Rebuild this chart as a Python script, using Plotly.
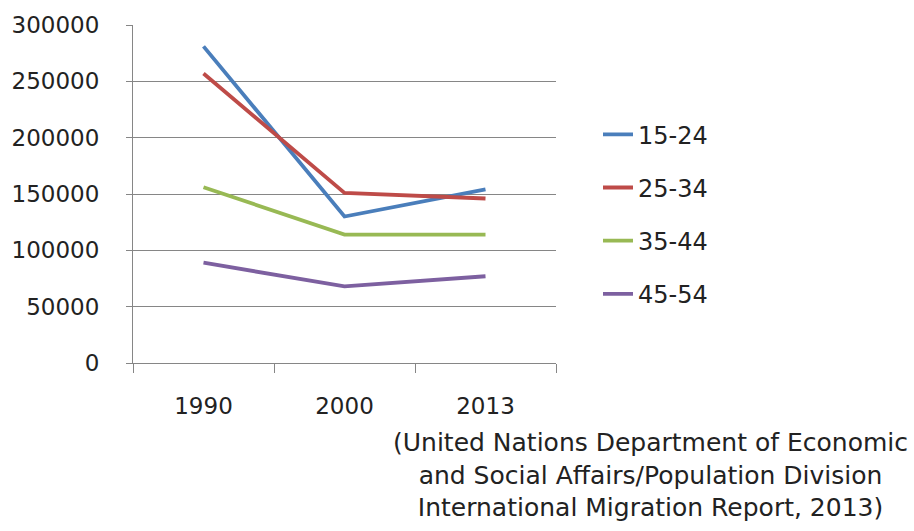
import plotly.graph_objects as go

years = ["1990", "2000", "2013"]
age_15_24 = [281000, 130000, 154000]
age_25_34 = [257000, 151000, 146000]
age_35_44 = [156000, 114000, 114000]
age_45_54 = [89000, 68000, 77000]

series = [
    ("15-24", age_15_24, "#4A7EBB"),
    ("25-34", age_25_34, "#BE4B48"),
    ("35-44", age_35_44, "#98B954"),
    ("45-54", age_45_54, "#7D60A0"),
]

W, H = 914, 531
L, R, T, B = 133, 358, 20, 168
FONT = "DejaVu Sans"
pw = W - L - R
ph = H - T - B

fig = go.Figure()
for i, (name, vals, col) in enumerate(series):
    fig.add_trace(go.Scatter(
        x=years, y=vals, name=name, mode="lines",
        line=dict(color=col, width=3.8),
        legendgroup=f"g{i}",
    ))

fig.update_layout(
    width=W, height=H,
    margin=dict(l=L, r=R, t=T, b=B),
    paper_bgcolor="white", plot_bgcolor="white",
    font=dict(family=FONT, size=23, color="#222222"),
    showlegend=True,
    legend=dict(
        x=(598 - L) / pw, xref="paper", xanchor="left",
        y=(H - B - 212) / ph, yanchor="middle",
        tracegroupgap=19,
        font=dict(size=24),
        bgcolor="rgba(0,0,0,0)",
    ),
)

fig.update_xaxes(
    type="category", range=[-0.5, 2.5],
    showline=True, linecolor="#868686", linewidth=1,
    ticks="outside", tickson="boundaries", ticklen=9, tickcolor="#868686",
    showgrid=False, ticklabelstandoff=22,
)
fig.update_yaxes(
    range=[0, 300000], dtick=50000, tickformat="d",
    showline=True, linecolor="#868686", linewidth=1,
    ticks="outside", ticklen=6, tickcolor="#868686",
    showgrid=True, gridcolor="#868686", gridwidth=1,
    zeroline=False, ticklabelstandoff=22,
)

source_lines = [
    "(United Nations Department of Economic",
    "and Social Affairs/Population Division",
    "International Migration Report, 2013)",
]
fig.add_annotation(
    text="<br>".join(source_lines),
    xref="paper", yref="paper",
    x=(650 - L) / pw, y=(H - B - 477) / ph,
    xanchor="center", yanchor="middle",
    showarrow=False, align="center",
    font=dict(family=FONT, size=25, color="#222222"),
)

fig.write_html("out.html")
